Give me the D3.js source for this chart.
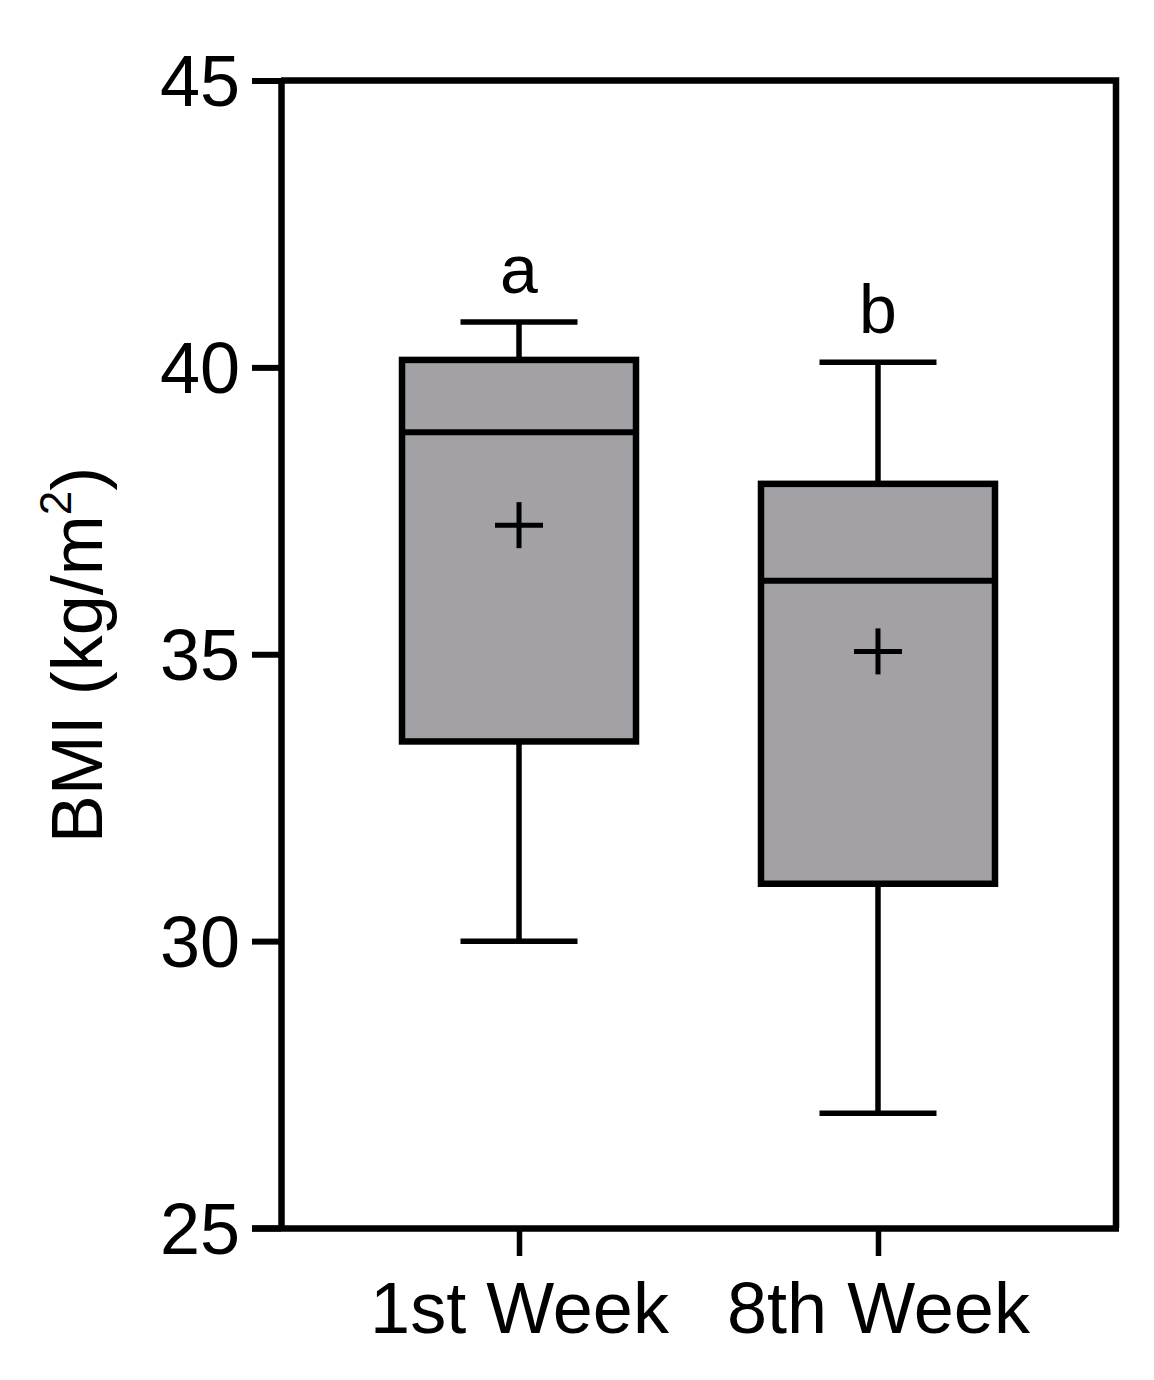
<!DOCTYPE html>
<html>
<head>
<meta charset="utf-8">
<script src="https://cdn.jsdelivr.net/npm/d3@7"></script>
<style>
  body { margin: 0; background: #fff; }
  svg { display: block; }
  text { font-family: "Liberation Sans", Arial, sans-serif; fill: #000; }
</style>
</head>
<body>
<script>
const categories = ["1st Week", "8th Week"];
const minVals = [30.0, 27.0];
const q1Vals = [33.48, 31.0];
const medianVals = [38.87, 36.28];
const q3Vals = [40.13, 37.97];
const maxVals = [40.79, 40.09];
const meanVals = [37.25, 35.05];
const sigLetters = ["a", "b"];
const yTicks = [25, 30, 35, 40, 45];

const W = 1154, H = 1380;
const plotL = 281, plotR = 1116, plotT = 80.5, plotB = 1228;

const svg = d3.select("body").append("svg").attr("width", W).attr("height", H);

const y = d3.scaleLinear().domain([25, 45]).range([plotB, plotT]);
const x = d3.scalePoint().domain(categories).range([plotL, plotR]).padding(0.663);

const boxW = 234, capW = 117;
const fill = "#a3a1a6";

const data = categories.map((c, i) => ({
  c, min: minVals[i], q1: q1Vals[i], med: medianVals[i], q3: q3Vals[i],
  max: maxVals[i], mean: meanVals[i], letter: sigLetters[i]
}));

const g = svg.append("g");
const box = g.selectAll("g.box").data(data).join("g").attr("class", "box");

// whiskers
box.append("line")
  .attr("x1", d => x(d.c)).attr("x2", d => x(d.c))
  .attr("y1", d => y(d.max)).attr("y2", d => y(d.q3))
  .attr("stroke", "#000").attr("stroke-width", 5.5);
box.append("line")
  .attr("x1", d => x(d.c)).attr("x2", d => x(d.c))
  .attr("y1", d => y(d.q1)).attr("y2", d => y(d.min))
  .attr("stroke", "#000").attr("stroke-width", 5.5);
// caps
box.append("line")
  .attr("x1", d => x(d.c) - capW / 2).attr("x2", d => x(d.c) + capW / 2)
  .attr("y1", d => y(d.max)).attr("y2", d => y(d.max))
  .attr("stroke", "#000").attr("stroke-width", 5.5);
box.append("line")
  .attr("x1", d => x(d.c) - capW / 2).attr("x2", d => x(d.c) + capW / 2)
  .attr("y1", d => y(d.min)).attr("y2", d => y(d.min))
  .attr("stroke", "#000").attr("stroke-width", 5.5);
// box
box.append("rect")
  .attr("x", d => x(d.c) - boxW / 2).attr("width", boxW)
  .attr("y", d => y(d.q3)).attr("height", d => y(d.q1) - y(d.q3))
  .attr("fill", fill).attr("stroke", "#000").attr("stroke-width", 6.5);
// median
box.append("line")
  .attr("x1", d => x(d.c) - boxW / 2).attr("x2", d => x(d.c) + boxW / 2)
  .attr("y1", d => y(d.med)).attr("y2", d => y(d.med))
  .attr("stroke", "#000").attr("stroke-width", 6);
// mean plus
box.append("line")
  .attr("x1", d => x(d.c) - 24).attr("x2", d => x(d.c) + 24)
  .attr("y1", d => y(d.mean)).attr("y2", d => y(d.mean))
  .attr("stroke", "#000").attr("stroke-width", 5);
box.append("line")
  .attr("x1", d => x(d.c)).attr("x2", d => x(d.c))
  .attr("y1", d => y(d.mean) - 23).attr("y2", d => y(d.mean) + 23)
  .attr("stroke", "#000").attr("stroke-width", 5);
// significance letters
box.append("text")
  .attr("x", d => x(d.c)).attr("y", d => y(d.max) - 29)
  .attr("text-anchor", "middle").attr("font-size", 68)
  .text(d => d.letter);

// frame top and right
svg.append("path")
  .attr("d", `M${plotL},${plotT}H${plotR}V${plotB}`)
  .attr("fill", "none").attr("stroke", "#000").attr("stroke-width", 6.5);

// y axis
const yAxis = svg.append("g").attr("transform", `translate(${plotL},0)`)
  .call(d3.axisLeft(y).tickValues(yTicks).tickSize(29).tickPadding(12).tickSizeOuter(0));
yAxis.select(".domain").attr("stroke-width", 6.5);
yAxis.selectAll(".tick line").attr("stroke-width", 6);
yAxis.selectAll(".tick text").attr("font-size", 72).attr("dy", "0.35em")
  .attr("font-family", "'Liberation Sans', Arial, sans-serif").attr("fill", "#000");

// x axis
const xAxis = svg.append("g").attr("transform", `translate(0,${plotB})`)
  .call(d3.axisBottom(x).tickSize(28).tickPadding(26).tickSizeOuter(0));
xAxis.select(".domain").attr("stroke-width", 6.5)
  .attr("d", `M${plotL - 29},0.5H${plotR + 3}`);
xAxis.selectAll(".tick line").attr("stroke-width", 5.5);
xAxis.selectAll(".tick text").attr("font-size", 72)
  .attr("font-family", "'Liberation Sans', Arial, sans-serif").attr("fill", "#000");

// y title
const t = svg.append("text")
  .attr("transform", "translate(102,655) rotate(-90)")
  .attr("text-anchor", "middle").attr("font-size", 72);
t.append("tspan").text("BMI (kg/m");
t.append("tspan").attr("font-size", 44).attr("dy", -31).text("2");
t.append("tspan").attr("dy", 31).text(")");
</script>
</body>
</html>
